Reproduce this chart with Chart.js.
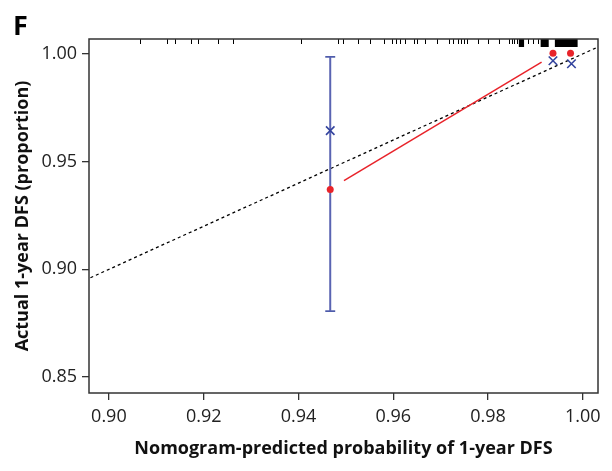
<!DOCTYPE html>
<html>
<head>
<meta charset="utf-8">
<script src="https://cdn.jsdelivr.net/npm/chart.js@4"></script>
<style>
  html, body { margin: 0; padding: 0; background: #fff; }
  #wrap { width: 612px; height: 471px; }
</style>
</head>
<body>
<div id="wrap"><canvas id="calib"></canvas></div>
<script>
  // axis settings
  const xRange = [0.8958, 1.0032];
  const yRange = [0.8426, 1.0069];
  const xTicks = [0.90, 0.92, 0.94, 0.96, 0.98, 1.00];
  const yTicks = [0.85, 0.90, 0.95, 1.00];

  // observed (Kaplan-Meier) points, blue crosses
  const obsX = [0.9467, 0.9937, 0.9976];
  const obsY = [0.9644, 0.9968, 0.9954];
  // bias-corrected points, red dots
  const corrX = [0.9467, 0.9937, 0.9974];
  const corrY = [0.9370, 1.0003, 1.0003];
  // red calibration line
  const lineX = [0.9496, 0.9913];
  const lineY = [0.9412, 0.9962];
  // error bar on the first group
  const errX = 0.9467;
  const errLo = 0.8806;
  const errHi = 0.9986;
  const capHalf = 0.00105;
  // ideal line y = x
  const diag = [0.85, 1.05];

  // rug of predicted probabilities along the top
  const rugTicks = [0.9065, 0.9122, 0.9139, 0.9173, 0.9188, 0.9230, 0.9262, 0.9405,
    0.9483, 0.9494, 0.9525, 0.9551, 0.9580, 0.9597, 0.9605, 0.9614, 0.9624, 0.9643,
    0.9650, 0.9667, 0.9692, 0.9717, 0.9726, 0.9736, 0.9743, 0.9749, 0.9755, 0.9778,
    0.9800, 0.9823, 0.9844, 0.9850, 0.9854, 0.9861, 0.9884, 0.9895, 0.9905];
  const rugBlocks = [[0.9865, 0.9876], [0.9911, 0.9928], [0.9941, 0.9989]];

  const FONT = "'Open Sans', 'Noto Sans', sans-serif";
  const RED = '#e8232a';
  const BLUE = '#34449e';
  const BLUE_BAR = '#5a64b2';

  const frameAndRug = {
    id: 'frameAndRug',
    afterDatasetsDraw(chart) {
      const { ctx, chartArea: a, scales: { x } } = chart;
      ctx.save();
      // rug
      ctx.strokeStyle = '#000';
      ctx.lineWidth = 1;
      rugTicks.forEach(v => {
        const px = Math.round(x.getPixelForValue(v)) + 0.5;
        ctx.beginPath();
        ctx.moveTo(px, a.top);
        ctx.lineTo(px, a.top + 5);
        ctx.stroke();
      });
      ctx.fillStyle = '#000';
      rugBlocks.forEach(([s, e]) => {
        const p0 = x.getPixelForValue(s), p1 = x.getPixelForValue(e);
        ctx.fillRect(p0, a.top, p1 - p0, 8);
      });
      // box around plot
      ctx.strokeStyle = '#333';
      ctx.lineWidth = 1.5;
      ctx.strokeRect(a.left, a.top, a.right - a.left, a.bottom - a.top);
      ctx.restore();
    },
    afterDraw(chart) {
      const ctx = chart.ctx;
      ctx.save();
      ctx.fillStyle = '#000';
      ctx.font = "bold 27px " + FONT;
      ctx.textBaseline = 'alphabetic';
      ctx.fillText('F', 13, 35);
      ctx.restore();
    }
  };

  const pts = (xs, ys) => xs.map((v, i) => ({ x: v, y: ys[i] }));

  new Chart(document.getElementById('calib'), {
    type: 'scatter',
    data: {
      datasets: [
        {
          data: pts(obsX, obsY),
          pointStyle: 'crossRot', pointRadius: 6, borderColor: BLUE,
          borderWidth: 1.6, backgroundColor: BLUE
        },
        {
          data: pts(corrX, corrY),
          pointStyle: 'circle', pointRadius: 3.5, borderWidth: 0,
          backgroundColor: RED, borderColor: RED
        },
        {
          data: [{ x: errX, y: errLo }, { x: errX, y: errHi }],
          showLine: true, pointRadius: 0, borderColor: BLUE_BAR, borderWidth: 2
        },
        {
          data: [{ x: errX - capHalf, y: errHi }, { x: errX + capHalf, y: errHi }],
          showLine: true, pointRadius: 0, borderColor: BLUE, borderWidth: 1.5
        },
        {
          data: [{ x: errX - capHalf, y: errLo }, { x: errX + capHalf, y: errLo }],
          showLine: true, pointRadius: 0, borderColor: BLUE, borderWidth: 1.5
        },
        {
          data: pts(lineX, lineY),
          showLine: true, pointRadius: 0, borderColor: RED, borderWidth: 1.5
        },
        {
          data: pts(diag, diag),
          showLine: true, pointRadius: 0, borderColor: '#000', borderWidth: 1.3,
          borderDash: [3, 3]
        }
      ]
    },
    options: {
      responsive: true,
      maintainAspectRatio: false,
      animation: false,
      layout: { padding: { top: 39, right: 14, left: 0, bottom: 0 } },
      plugins: { legend: { display: false }, tooltip: { enabled: false } },
      scales: {
        x: {
          type: 'linear',
          min: xRange[0], max: xRange[1],
          afterBuildTicks: s => { s.ticks = xTicks.map(v => ({ value: v })); },
          afterFit: s => { s.height = 78; },
          border: { display: false },
          grid: { drawOnChartArea: false, tickLength: 7, tickColor: '#333', lineWidth: 1.3 },
          ticks: {
            padding: 6, color: '#222', font: { family: FONT, size: 18 },
            callback: v => v.toFixed(2)
          },
          title: {
            display: true, text: 'Nomogram-predicted probability of 1-year DFS',
            color: '#111', font: { family: FONT, size: 18, weight: 'bold' },
            padding: { top: 0, bottom: 11 }
          }
        },
        y: {
          type: 'linear',
          min: yRange[0], max: yRange[1],
          afterBuildTicks: s => { s.ticks = yTicks.map(v => ({ value: v })); },
          afterFit: s => { s.width = 89; },
          border: { display: false },
          grid: { drawOnChartArea: false, tickLength: 7, tickColor: '#333', lineWidth: 1.3 },
          ticks: {
            padding: 5, color: '#222', font: { family: FONT, size: 18 },
            callback: v => v.toFixed(2)
          },
          title: {
            display: true, text: 'Actual 1-year DFS (proportion)',
            color: '#111', font: { family: FONT, size: 18, weight: 'bold' },
            padding: { top: 12, bottom: 0 }
          }
        }
      }
    },
    plugins: [frameAndRug]
  });
</script>
</body>
</html>
